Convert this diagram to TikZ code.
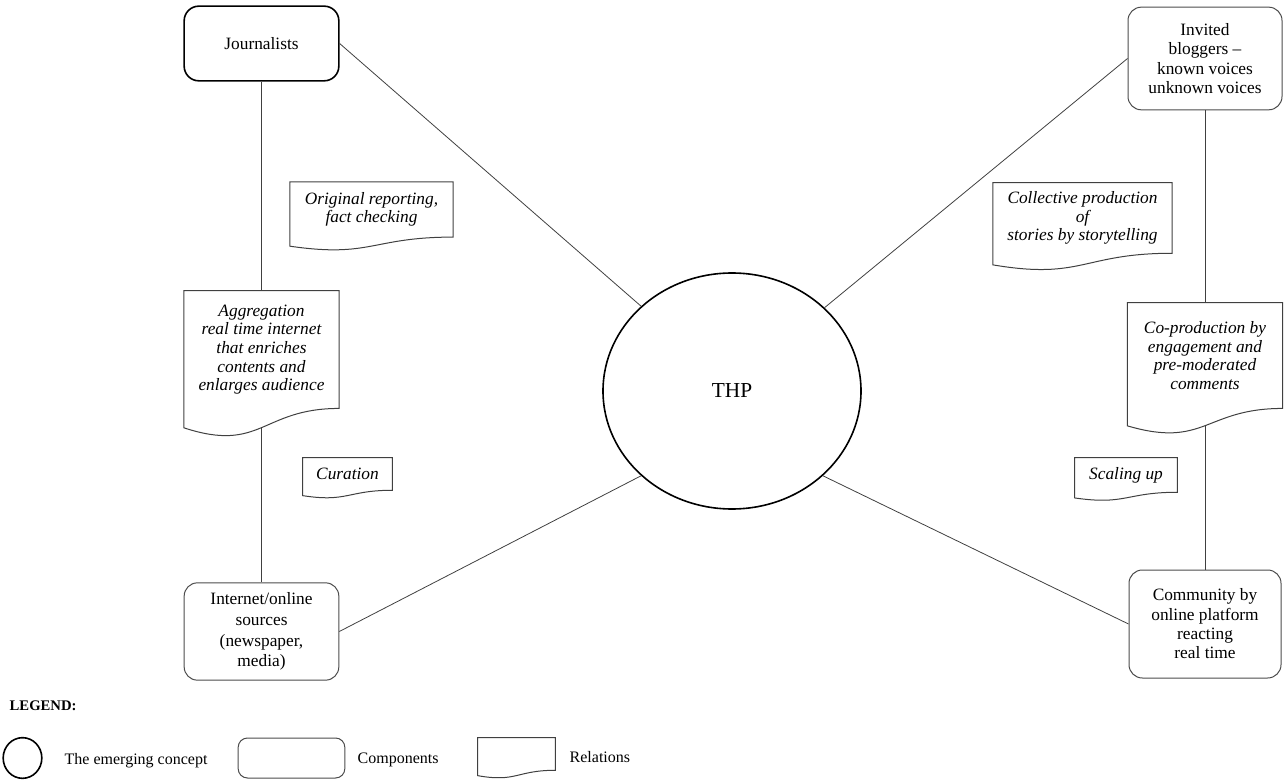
\documentclass[tikz,border=0pt]{standalone}
\usepackage{fontspec}
\setmainfont{Liberation Serif}
\usepackage{tikz}
\usetikzlibrary{calc,shapes.geometric}

\tikzset{
	concept/.style={shape=ellipse, draw=black, line width=1.2pt, inner sep=0pt, font=\fontsize{16}{19}\selectfont},
	component/.style={shape=rectangle, rounded corners=10pt, draw=black!70, line width=0.75pt, align=center, font=\fontsize{13}{14.5}\selectfont},
	relation/.style={shape=rectangle, inner sep=2pt, align=center, font=\fontsize{13}{14}\selectfont\itshape},
	relline/.style={draw=black!75, line width=0.75pt},
	link/.style={draw=black!75, line width=0.6pt},
	legtext/.style={anchor=west, font=\fontsize{12}{14}\selectfont},
}

% wavy bottom of a relation box
\newcommand{\docwave}[1]{%
	\draw[relline] ($(#1.south west)!-0.1646!(#1.north west)$)
		.. controls ($(#1.south)!-0.38!(#1.north)$) and (#1.south) .. (#1.south east)
		-- (#1.north east) -- (#1.north west) -- cycle;}

\begin{document}
\begin{tikzpicture}[x=0.75pt, y=-0.75pt]
	\useasboundingbox (0,0) rectangle (1285,780);

	% components
	\node[component, draw=black, line width=1.2pt, rounded corners=11pt, minimum width=116pt, minimum height=56pt] (journ) at (261.5,43.5) {Journalists};
	\node[component, minimum width=115.5pt, minimum height=77pt] (blog) at (1205,58.5) {Invited\\bloggers --\\known voices\\unknown voices};
	\node[component, minimum width=116pt, minimum height=73pt, font=\fontsize{13}{15.5}\selectfont] (web) at (261.5,631.5) {Internet/online\\sources\\(newspaper,\\media)};
	\node[component, minimum width=114pt, minimum height=81pt] (crowd) at (1205,624) {Community by\\online platform\\reacting\\real time};

	% the concept
	\node[concept, minimum width=193.5pt, minimum height=177pt] (thp) at (732,391) {THP};

	% relations
	\node[relation, minimum width=122pt, minimum height=41pt] (orig) at (371.5,209.5) {Original reporting,\\fact checking};
	\node[relation, minimum width=116pt, minimum height=88pt] (aggr) at (261.5,349.5) {Aggregation\\real time internet\\that enriches\\contents and\\enlarges audience};
	\node[relation, minimum width=67pt, minimum height=24pt] (cur) at (347.5,474) {Curation};
	\node[relation, minimum width=134pt, minimum height=52.5pt] (coll) at (1082.5,218) {Collective production\\of\\stories by storytelling};
	\node[relation, minimum width=116pt, minimum height=79pt] (coprod) at (1205,355.5) {Co-production by\\engagement and\\pre-moderated\\comments};
	\node[relation, minimum width=76.5pt, minimum height=25.5pt] (scale) at (1126,475) {Scaling up};

	\docwave{orig}
	\docwave{aggr}
	\docwave{cur}
	\docwave{coll}
	\docwave{coprod}
	\docwave{scale}

	\coordinate (aggrfoot) at ($(aggr.south)!-0.163!(aggr.north)$);
	\coordinate (coprodfoot) at ($(coprod.south)!-0.163!(coprod.north)$);

	% connectors
	\path[link] (journ) edge (aggr);
	\path[link] (aggrfoot) edge (web);
	\path[link] (blog) edge (coprod);
	\path[link] (coprodfoot) edge (crowd);
	\path[link] (journ.east) edge (thp.137);
	\path[link] (blog.west) edge (thp.42);
	\path[link] (web.east) edge (thp.223);
	\path[link] (crowd.west) edge (thp.317);

	% legend
	\node[anchor=west, font=\fontsize{11}{13}\selectfont\bfseries] (legtitle) at (5,706) {LEGEND:};
	\node[concept, minimum width=29pt, minimum height=30.5pt] (legconcept) at (22.5,758) {};
	\node[legtext] (legconcepttext) at (60,761) {The emerging concept};
	\node[component, rounded corners=7pt, minimum width=80pt, minimum height=30pt] (legcomp) at (291.5,758) {};
	\node[legtext] (legcomptext) at (353,760) {Components};
	\node[relation, minimum width=58pt, minimum height=24pt] (legrel) at (516.5,754) {};
	\docwave{legrel}
	\node[legtext] (legreltext) at (565,757) {Relations};
\end{tikzpicture}
\end{document}
